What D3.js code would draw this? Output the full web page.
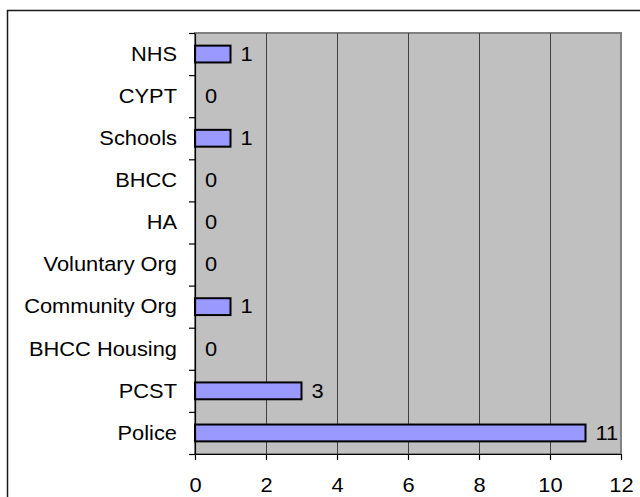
<!DOCTYPE html>
<html>
<head>
<meta charset="utf-8">
<script src="https://cdn.jsdelivr.net/npm/d3@7"></script>
<style>
    body { margin: 0; background: #fff; }
    text { font-family: "Liberation Sans", Arial, sans-serif; font-size: 19.5px; fill: #000; }
</style>
</head>
<body>
<script>
// categories top to bottom
const categories = ["NHS", "CYPT", "Schools", "BHCC", "HA", "Voluntary Org",
    "Community Org", "BHCC Housing", "PCST", "Police"];
const values = [1, 0, 1, 0, 0, 0, 1, 0, 3, 11];
const xTicks = [0, 2, 4, 6, 8, 10, 12];

let width = 640, height = 497;
let plotLeft = 195, plotTop = 33, plotRight = 621, plotBottom = 454;
let stretch = 1.12; // text in the picture is a bit wide

let svg = d3.select("body").append("svg")
    .attr("width", width)
    .attr("height", height);

// chart area border (runs off the picture on the right and bottom)
svg.append("rect")
    .attr("x", 7.5).attr("y", 10.5)
    .attr("width", 700).attr("height", 600)
    .style("fill", "#fff")
    .style("stroke", "#1a1a1a")
    .style("stroke-width", 1.5);

let x = d3.scaleLinear().domain([0, 12]).range([plotLeft, plotRight]);
let y = d3.scaleBand().domain(categories).range([plotTop, plotBottom])
    .paddingInner(0.6).paddingOuter(0.3);
// category boundaries for the tick marks
let yEdge = d3.scaleLinear().domain([0, categories.length]).range([plotTop, plotBottom]);

// plot area
svg.append("rect")
    .attr("x", plotLeft).attr("y", plotTop)
    .attr("width", plotRight - plotLeft).attr("height", plotBottom - plotTop)
    .style("fill", "#c0c0c0")
    .style("stroke", "#808080")
    .style("stroke-width", 2);

// gridlines
svg.append("g").selectAll("line")
    .data(xTicks.filter(d => d > 0 && d < 12))
    .enter().append("line")
    .attr("x1", d => x(d) + 0.5).attr("x2", d => x(d) + 0.5)
    .attr("y1", plotTop).attr("y2", plotBottom)
    .style("stroke", "#404040")
    .style("stroke-width", 1);

// bars
svg.append("g").selectAll("rect")
    .data(values)
    .enter().append("rect")
    .attr("x", x(0))
    .attr("y", (d, i) => y(categories[i]))
    .attr("width", d => x(d) - x(0))
    .attr("height", y.bandwidth())
    .style("fill", "#9999ff")
    .style("stroke", "#000")
    .style("stroke-width", 2)
    .style("display", d => d > 0 ? null : "none");

// value labels
svg.append("g").selectAll("text")
    .data(values)
    .enter().append("text")
    .attr("transform", (d, i) => "translate(" + (x(d) + 10) + "," + (y(categories[i]) + y.bandwidth() / 2) + ") scale(" + stretch + ",1)")
    .attr("dy", "0.35em")
    .text(d => d);

// left axis: tick marks at category edges, labels at centres
svg.append("g")
    .attr("transform", "translate(" + plotLeft + ",0)")
    .call(d3.axisLeft(yEdge).tickValues(d3.range(categories.length + 1)).tickFormat("").tickSize(6).tickSizeOuter(0))
    .call(g => g.selectAll("line, path").style("stroke", "#000").style("stroke-width", 1.2));

svg.append("g")
    .attr("transform", "translate(" + plotLeft + ",0)")
    .call(d3.axisLeft(y).tickSize(0).tickPadding(0))
    .call(g => g.select(".domain").remove())
    .call(g => g.selectAll("text")
        .attr("x", -18 / stretch)
        .attr("dy", "0.35em")
        .attr("transform", "scale(" + stretch + ",1)"));

// bottom axis
svg.append("g")
    .attr("transform", "translate(0," + plotBottom + ")")
    .call(d3.axisBottom(x).tickValues(xTicks).tickSize(6).tickSizeOuter(0).tickPadding(18))
    .call(g => g.selectAll("line, path").style("stroke", "#000").style("stroke-width", 1.2))
    .call(g => g.selectAll("text")
        .attr("transform", "scale(" + stretch + ",1)"));

// let the css font win over the axis defaults
svg.selectAll("g").attr("font-size", null).attr("font-family", null);
</script>
</body>
</html>
